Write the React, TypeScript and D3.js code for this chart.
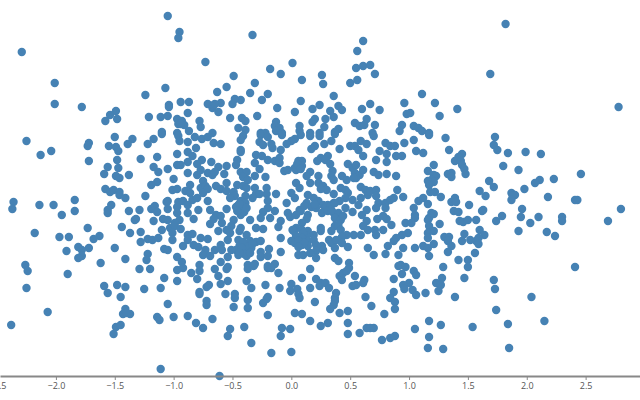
import React, { useEffect, useRef } from "react";
import * as d3 from "d3";

type P = [number, number];

const tickValues = [-2.5, -2, -1.5, -1, -0.5, 0, 0.5, 1, 1.5, 2, 2.5];

const topLeft: P[] = [[-1.05,1.84],[-.95,1.68],[-.96,1.62],[-2.29,1.48],[-.73,1.38],[-2.01,1.17],[-1.07,1.12],[-1.24,1.05],[-2.01,.96],[-1.78,.93],[-.94,.98],[-.87,.98],[-.71,.96],[-1.04,.95],[-1.04,.93],[-1.49,.89],[-1.54,.85],[-1.48,.81],[-1.58,.79],[-1.21,.83],[-1.11,.83],[-1.05,.84],[-.88,.87],[-.97,.81],[-.93,.79],[-.96,.76],[-.91,.75],[-.94,.76],[-.78,.79],[-.77,.73],[-.67,.92],[-.66,.95],[-1.10,.68],[-.97,.67],[-.87,.69],[-.67,.67]];

const topMiddle: P[] = [[-.33,1.65],[.61,1.59],[.56,1.49],[.01,1.37],[-.18,1.31],[-.09,1.26],[.55,1.32],[.61,1.34],[.67,1.35],[.71,1.26],[-.49,1.24],[.26,1.25],[.09,1.2],[-.31,1.17],[.27,1.16],[.50,1.17],[.56,1.2],[-.55,1.13],[-.63,1.08],[-.35,1.07],[-.20,1.06],[.36,1.04],[1.11,1.06],[-.25,1.0],[-.43,1.0],[-.48,1.01],[-.50,.96],[-.60,.97],[-.65,.96],[.08,.99],[.67,.96],[.96,.97],[.24,.95],[.40,.94],[.43,.9],[-.12,.92],[.18,.91],[.60,.91],[.75,.9],[-.62,.88],[.03,.88],[.33,.89],[-.29,.84],[-.52,.82],[-.42,.82],[-.39,.79],[.20,.81],[.18,.78],[.29,.81],[.36,.83],[.98,.86],[1.01,.87],[.64,.81],[.54,.77],[.58,.74],[.62,.75],[.71,.75],[.94,.75],[1.04,.74],[1.08,.72],[1.11,.69],[.92,.69],[-.13,.78],[-.14,.74],[-.10,.72],[-.13,.69],[.07,.74],[.07,.69],[.28,.73],[.40,.71],[-.45,.72],[-.39,.7],[-.26,.67],[-.22,.67],[-.08,.67],[.16,.67],[.24,.67],[.37,.68],[.69,.67]];

const topRight: P[] = [[1.82,1.76],[1.69,1.26],[2.78,.93],[1.22,.97],[1.41,.91],[1.26,.84],[1.17,.67]];

const middleLeft: P[] = [[-2.25,.59],[-2.13,.45],[-2.04,.49],[-1.72,.57],[-1.73,.54],[-1.50,.63],[-1.35,.61],[-1.39,.56],[-1.55,.54],[-1.49,.53],[-1.47,.49],[-1.17,.61],[-1.22,.56],[-1.10,.66],[-.96,.64],[-.95,.59],[-.88,.58],[-.82,.63],[-.76,.61],[-.71,.63],[-.81,.52],[-.97,.46],[-.88,.48],[-.84,.44],[-1.14,.43],[-1.72,.39],[-1.48,.4],[-1.28,.41],[-.88,.38],[-.76,.4],[-.80,.36],[-.97,.35],[-.94,.35],[-.68,.38],[-1.17,.33],[-1.05,.31],[-1.13,.28],[-1.56,.33],[-1.47,.32],[-1.59,.26],[-1.38,.25],[-1.49,.24],[-1.46,.22],[-.88,.27],[-.80,.25],[-.77,.3],[-.71,.27],[-.67,.25],[-1.00,.21],[-1.14,.18],[-1.19,.15],[-.75,.19],[-1.58,.11],[-1.54,.08],[-1.51,.1],[-1.46,.08],[-1.46,.05],[-1.41,.02],[-1.24,.04],[-1.01,.1],[-.97,.11],[-.86,.15],[-.90,.09],[-.86,.07],[-.77,.12],[-.73,.14],[-.71,.11],[-.75,.07],[-1.05,-.01],[-1.06,-.02],[-.96,-.02],[-.92,-.01],[-.84,0],[-.80,.02],[-.71,-.01],[-2.36,-.02],[-2.37,-.09],[-2.14,-.05],[-2.02,-.05],[-1.84,0],[-1.84,-.11],[-1.95,-.15],[-1.53,-.05],[-1.56,-.1],[-1.56,-.13],[-1.38,-.11],[-1.29,-.1],[-1.19,-.09],[-1.16,-.06],[-1.14,-.12],[-1.05,-.09],[-.97,-.07],[-.97,-.13],[-.88,-.05],[-.79,-.1],[-.69,-.1],[-.88,-.13],[-.83,-.19],[-1.33,-.2],[-1.32,-.19],[-1.17,-.21],[-1.09,-.19],[-1.05,-.2],[-.95,-.2],[-.99,-.23],[-.69,-.24],[-2.18,-.33],[-1.73,-.28],[-1.44,-.27],[-1.37,-.33],[-1.28,-.32],[-1.10,-.3],[-1.03,-.28],[-.99,-.26],[-.94,-.29],[-1.01,-.33],[-1.01,-.4],[-1.97,-.37],[-1.89,-.37],[-1.63,-.36],[-1.68,-.39],[-1.22,-.39],[-1.18,-.4],[-1.13,-.38],[-1.28,-.42],[-.88,-.35],[-.84,-.34],[-.88,-.4],[-.77,-.38],[-.71,-.39],[-.92,-.46],[-.83,-.45],[-.79,-.47],[-.73,-.5],[-1.81,-.47],[-1.72,-.48],[-1.78,-.5],[-1.91,-.51],[-1.50,-.48],[-1.08,-.49],[-1.05,-.5],[-.75,-.55],[-.69,-.56],[-1.22,-.54],[-1.23,-.6],[-1.78,-.56],[-1.81,-.58],[-1.41,-.59],[-.97,-.57],[-.93,-.62],[-1.62,-.63],[-2.26,-.65],[-.78,-.65]];

const centerLeft: P[] = [[-.41,.64],[-.43,.6],[-.26,.65],[-.20,.63],[-.08,.65],[.03,.61],[0,.59],[.08,.65],[-.04,.56],[-.66,.57],[-.60,.56],[-.27,.58],[-.24,.55],[-.17,.56],[-.16,.52],[-.09,.5],[-.43,.5],[-.43,.48],[-.30,.45],[-.25,.44],[-.20,.4],[-.14,.39],[-.10,.42],[-.10,.37],[-.46,.4],[-.47,.35],[-.31,.37],[-.62,.33],[-.55,.34],[-.65,.28],[-.57,.26],[-.27,.31],[-.43,.28],[-.38,.28],[-.41,.23],[-.37,.2],[-.31,.24],[-.22,.23],[-.55,.17],[-.46,.15],[-.41,.14],[-.64,.14],[-.60,.11],[-.55,.09],[-.49,.08],[-.48,.04],[-.52,.02],[-.38,.12],[-.31,.12],[-.21,.12],[-.30,.06],[-.27,.06],[-.33,.02],[-.39,.04],[-.21,.06],[-.20,-.01],[-.13,.06],[-.43,-.01],[-.45,-.05],[-.39,-.03],[-.47,-.07],[-.43,-.1],[-.43,-.15],[-.42,-.13],[-.04,-.03],[-.55,-.09],[-.14,-.11],[-.20,-.08],[-.24,-.12],[-.18,-.18],[-.26,-.18],[-.03,-.13],[-.01,-.17],[-.64,-.15],[-.60,-.16],[-.66,-.19],[-.59,-.23],[-.49,-.2],[-.51,-.26],[-.35,-.2],[-.43,-.28],[-.44,-.31],[-.30,-.28],[-.24,-.29],[-.62,-.31],[-.55,-.3],[-.52,-.33],[-.09,-.21],[-.11,-.27],[-.09,-.38],[-.54,-.4],[-.45,-.4],[-.38,-.35],[-.44,-.46],[-.39,-.45],[-.35,-.41],[-.30,-.42],[-.26,-.41],[-.38,-.5],[-.43,-.51],[-.34,-.48],[-.47,-.5],[-.60,-.45],[-.65,-.5],[-.59,-.5],[-.51,-.5],[-.26,-.52],[-.19,-.49],[-.26,-.57],[-.20,-.56],[-.09,-.52],[-.54,-.57],[-.60,-.62],[-.45,-.55],[-.38,-.56],[-.37,-.65],[-.31,-.64],[-.14,-.64],[-.20,-.66]];

const centerRight: P[] = [[.16,.64],[.24,.64],[.34,.59],[.28,.56],[.20,.54],[.17,.51],[.37,.66],[.41,.51],[.50,.54],[.54,.54],[.59,.59],[.64,.56],[.57,.5],[.61,.44],[.70,.64],[.80,.57],[.84,.54],[.88,.54],[.96,.57],[1.04,.6],[.75,.49],[.81,.46],[.72,.4],[.81,.38],[.89,.44],[.94,.44],[1.06,.49],[1.12,.47],[.06,.39],[.09,.39],[.07,.34],[.03,.32],[.09,.34],[.04,.3],[-.06,.29],[-.03,.3],[.25,.42],[.31,.44],[.29,.4],[.22,.39],[.33,.36],[.35,.29],[.34,.24],[.36,.2],[.16,.28],[.23,.24],[.13,.24],[.16,.17],[.04,.17],[.07,.12],[0,.07],[.03,.02],[.23,.17],[.27,.14],[.30,.1],[.25,.11],[.14,.05],[.19,.02],[.23,-.01],[.27,-.05],[.36,.06],[.43,.24],[.47,.2],[.42,.12],[.46,.1],[.48,.07],[.46,.02],[.41,-.01],[.36,-.03],[.31,-.05],[.48,.36],[.52,.32],[.55,.35],[.54,.27],[.58,.25],[.55,.22],[.61,.3],[.53,.22],[.70,.28],[.74,.25],[.81,.26],[.89,.24],[.59,.13],[.63,.1],[.65,.05],[.67,.09],[.72,.1],[.72,.04],[.52,0],[.59,.02],[.57,-.05],[.64,-.1],[.90,.1],[.95,.03],[.74,-.03],[.72,-.08],[.80,-.03],[.84,0],[.87,.02],[.80,-.08],[1.04,-.08],[1.08,-.01],[1.12,.02],[1.05,-.15],[1.05,-.18],[.13,-.03],[.17,-.07],[.21,-.08],[.29,-.08],[.33,-.07],[.37,-.03],[.07,-.1],[.26,-.13],[.31,-.11],[.36,-.13],[.40,-.13],[.46,-.08],[.14,-.15],[.08,-.11],[.04,-.15],[.13,-.19],[.09,-.23],[.04,-.28],[.02,-.31],[.09,-.3],[.14,-.31],[.19,-.35],[.13,-.36],[.10,-.33],[.25,-.28],[.25,-.31],[.37,-.18],[.42,-.2],[.44,-.16],[.52,-.12],[.60,-.15],[.37,-.26],[.40,-.25],[.42,-.3],[.34,-.31],[.64,-.21],[.61,-.26],[.65,-.3],[.71,-.3],[.72,-.35],[.78,-.3],[.73,-.19],[.81,-.19],[.85,-.25],[.78,-.16],[.97,-.23],[1.02,-.23],[.99,-.33],[.94,-.35],[.89,-.38],[.87,-.41],[.82,-.46],[.53,-.35],[.59,-.35],[.47,-.35],[.43,-.37],[.32,-.4],[.34,-.43],[.38,-.4],[.43,-.43],[.37,-.48],[.48,-.47],[.01,-.3],[.04,-.36],[0,-.41],[.03,-.43],[.09,-.45],[.14,-.41],[.19,-.4],[.09,-.38],[.14,-.46],[.21,-.45],[.26,-.46],[.21,-.51],[.27,-.5],[.06,-.55],[.10,-.55],[.16,-.53],[.21,-.58],[.37,-.58],[.40,-.61],[.49,-.63],[.65,-.48],[.70,-.55],[.80,-.54],[.95,-.48],[.91,-.55],[1.05,-.48],[1.12,-.46],[.93,-.65]];

const denseClusters: P[] = [[-.40,-.07],[-.44,-.04],[-.40,-.12],[-.46,-.11],[-.38,-.08],[-.41,-.42],[-.37,-.47],[-.42,-.48],[-.33,-.44],[-.40,-.54],[-.35,-.53],[-.44,-.53],[.05,.36],[.08,.31],[.11,-.06],[.20,-.04],[.34,-.1],[.06,-.41],[.11,-.43],[.06,-.47]];

const middleRight: P[] = [[1.17,.65],[1.31,.62],[1.73,.63],[1.72,.55],[1.75,.5],[1.34,.5],[1.84,.47],[1.99,.48],[2.12,.46],[1.45,.46],[1.42,.43],[1.39,.39],[1.44,.39],[1.45,.35],[1.47,.31],[1.48,.26],[1.80,.34],[1.93,.3],[1.21,.35],[2.46,.26],[1.16,.29],[1.33,.26],[1.36,.27],[1.36,.23],[1.23,.24],[1.21,.25],[1.19,.2],[1.21,.18],[1.16,.19],[1.17,.15],[1.68,.19],[1.72,.13],[2.11,.2],[2.07,.17],[2.23,.21],[1.98,.11],[1.60,.09],[1.65,.04],[1.18,.08],[1.22,.08],[1.27,.03],[1.87,.07],[1.90,.05],[1.88,.04],[1.87,0],[2.18,.03],[2.41,0],[2.43,0],[1.39,.02],[1.36,-.02],[1.40,-.02],[1.51,-.05],[1.16,-.04],[2.80,-.09],[1.96,-.09],[1.62,-.11],[1.63,-.1],[1.38,-.11],[1.42,-.12],[1.19,-.13],[1.21,-.14],[1.17,-.18],[1.16,-.2],[1.79,-.16],[1.74,-.21],[1.95,-.17],[2.10,-.17],[2.30,-.17],[2.30,-.21],[2.69,-.21],[1.57,-.2],[1.43,-.21],[1.46,-.22],[1.50,-.2],[2.03,-.23],[1.26,-.24],[1.17,-.26],[1.21,-.31],[1.16,-.33],[1.16,-.38],[1.93,-.31],[2.17,-.32],[2.24,-.36],[1.60,-.3],[1.64,-.35],[1.47,-.34],[1.59,-.38],[1.57,-.41],[1.59,-.44],[1.52,-.4],[1.45,-.41],[1.30,-.37],[1.34,-.37],[1.33,-.41],[1.36,-.46],[1.21,-.44],[1.33,-.52],[1.56,-.53],[1.16,-.48],[1.17,-.56],[1.42,-.6],[1.50,-.6],[1.29,-.67],[1.50,-.67],[2.41,-.67]];

const bottomLeft: P[] = [[-2.24,-.71],[-1.90,-.74],[-2.25,-.88],[-1.59,-.86],[-1.48,-.85],[-1.41,-.87],[-1.56,-.93],[-1.45,-.97],[-1.29,-.69],[-1.20,-.69],[-1.25,-.89],[-1.11,-.88],[-1.08,-.78],[-.97,-.7],[-.92,-.68],[-.97,-.81],[-.85,-.73],[-.78,-.71],[-.80,-.79],[-.72,-.87],[-.70,-.85],[-.78,-.92],[-.78,-.94],[-1.05,-1.04],[-.72,-1.01],[-.72,-1.05],[-2.07,-1.12],[-1.41,-1.09],[-1.43,-1.14],[-1.37,-1.14],[-1.40,-1.13],[-1.14,-1.17],[-1.12,-1.2],[-1.0,-1.17],[-.88,-1.16],[-.81,-1.23],[-.75,-1.28],[-.67,-1.19],[-2.38,-1.25],[-1.49,-1.27],[-1.45,-1.25],[-1.51,-1.34],[-1.11,-1.69]];

const bottomMiddle: P[] = [[-.65,-.69],[-.62,-.76],[-.55,-.69],[-.54,-.67],[-.37,-.69],[-.32,-.66],[-.20,-.68],[-.17,-.68],[-.11,-.73],[.16,-.69],[-.60,-.84],[-.54,-.81],[-.38,-.81],[-.34,-.88],[-.22,-.85],[-.10,-.88],[.09,-.78],[0,-.84],[-.01,-.91],[.05,-.89],[.06,-.94],[.07,-.98],[.16,-.88],[.21,-.79],[.25,-.83],[.24,-.86],[.29,-.83],[.32,-.88],[.41,-.76],[.43,-.8],[.44,-.73],[.47,-.71],[.49,-.68],[.54,-.76],[.52,-.86],[.55,-.85],[.62,-.8],[.61,-.83],[.91,-.66],[.97,-.67],[.94,-.74],[1.04,-.71],[1.06,-.75],[.87,-.79],[1.0,-.83],[.95,-.85],[.96,-.89],[1.03,-.9],[1.06,-.95],[1.14,-.93],[-.56,-.94],[-.48,-.94],[-.48,-.98],[-.37,-1],[-.20,-.97],[-.21,-.99],[-.24,-1.03],[.38,-.93],[.37,-.98],[.37,-1.01],[.36,-1.05],[.33,-1.09],[.20,-1.02],[.63,-.97],[.87,-.92],[.84,-.98],[.88,-1.02],[.88,-1.09],[.68,-1.06],[-.49,-1.07],[-.37,-1.08],[.41,-1.13],[.48,-1.11],[.79,-1.14],[.03,-1.13],[.09,-1.14],[-.20,-1.15],[.16,-1.21],[.31,-1.23],[.25,-1.26],[.48,-1.23],[-.40,-1.27],[-.52,-1.29],[-.54,-1.36],[-.08,-1.28],[-.01,-1.29],[-.09,-1.36],[.48,-1.34],[.58,-1.33],[.64,-1.28],[.67,-1.28],[.70,-1.28],[1.05,-1.29],[.77,-1.4],[.84,-1.38],[.88,-1.36],[-.34,-1.43],[-.17,-1.53],[0,-1.52],[-.61,-1.76]];

const bottomRight: P[] = [[1.28,-.78],[1.23,-.83],[1.27,-.85],[1.25,-.91],[1.47,-.78],[1.72,-.8],[1.73,-.89],[1.39,-.97],[2.04,-.97],[1.74,-1.1],[1.17,-1.21],[1.27,-1.25],[1.54,-1.27],[1.84,-1.24],[2.15,-1.21],[1.17,-1.37],[1.16,-1.48],[1.29,-1.49],[1.85,-1.48]];

const allPoints: P[] = [...topLeft, ...topMiddle, ...topRight, ...middleLeft, ...centerLeft, ...centerRight, ...denseClusters, ...middleRight, ...bottomLeft, ...bottomMiddle, ...bottomRight];

const W = 640;
const H = 400;

export default function App() {
  const ref = useRef<SVGSVGElement | null>(null);
  useEffect(() => {
    const svg = d3.select(ref.current);
    svg.selectAll("*").remove();
    const x = d3.scaleLinear().domain([-2.475, 2.962]).range([0, W]);
    const y = d3.scaleLinear().domain([-2, 2]).range([H, 0]);
    svg
      .append("g")
      .selectAll("circle")
      .data(allPoints)
      .join("circle")
      .attr("cx", (d) => x(d[0]))
      .attr("cy", (d) => y(d[1]))
      .attr("r", 4.2)
      .attr("fill", "steelblue");
    const axis = d3.axisBottom(x).tickValues(tickValues).tickFormat(d3.format(".1f")).tickSize(4).tickSizeOuter(0);
    const g = svg.append("g").attr("transform", "translate(0,376)").call(axis as any);
    g.select(".domain").attr("stroke", "#888").attr("stroke-width", 2);
    g.selectAll(".tick line").attr("stroke", "#888");
    g.selectAll(".tick text")
      .attr("fill", "#555")
      .attr("font-family", "'Open Sans', sans-serif")
      .attr("font-size", 9)
      .attr("dy", "0.71em");
  }, []);
  return (
    <svg
      ref={ref}
      width={W}
      height={H}
      style={{ position: "absolute", left: 0, top: 0, display: "block" }}
    />
  );
}
